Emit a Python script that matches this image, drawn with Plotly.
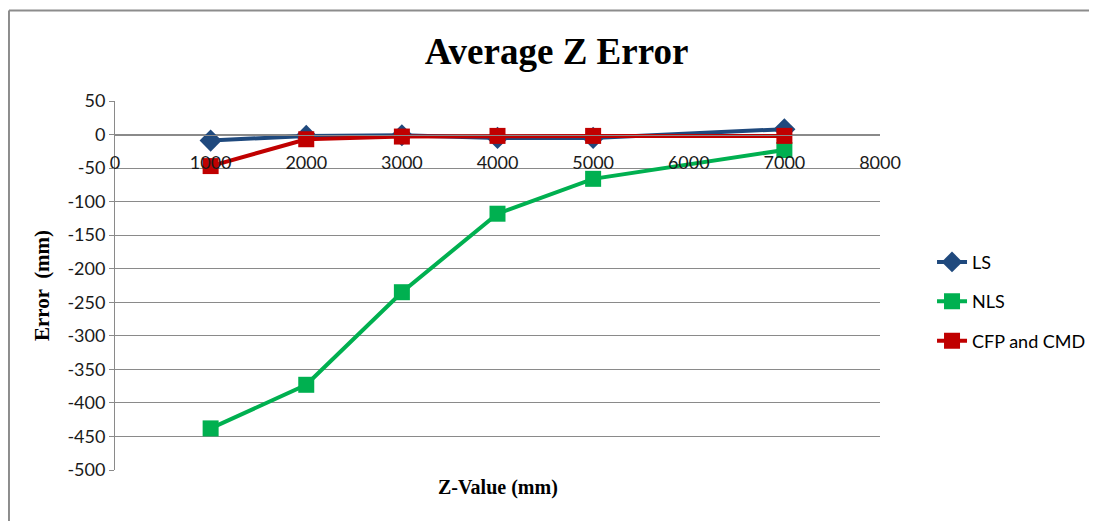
import plotly.graph_objects as go

# Z values (mm) and average Z error (mm) per method
z_values = [1000, 2000, 3000, 4000, 5000, 7000]
ls_error = [-9, -2, -1, -5, -5, 8]
nls_error = [-438, -373, -235, -118, -66, -23]
cfp_cmd_error = [-47, -7, -3, -2, -2, -2]

x_ticks = [0, 1000, 2000, 3000, 4000, 5000, 6000, 7000, 8000]
y_ticks = list(range(-500, 51, 50))
y_tick_labels = [str(v) for v in y_ticks]  # plain hyphen minus, like Excel

grid = "#8a8a8a"
tick_font = dict(family="Lato", size=18, color="#1a1a1a")

traces = [
    go.Scatter(
        x=z_values, y=ls_error, name="LS", mode="lines+markers",
        line=dict(color="#1F497D", width=4),
        marker=dict(symbol="diamond", size=17, color="#1F497D"),
        legendgroup="a",
    ),
    go.Scatter(
        x=z_values, y=nls_error, name="NLS", mode="lines+markers",
        line=dict(color="#00B050", width=4),
        marker=dict(symbol="square", size=16, color="#00B050"),
        legendgroup="b",
    ),
    go.Scatter(
        x=z_values, y=cfp_cmd_error, name="CFP and CMD", mode="lines+markers",
        line=dict(color="#C00000", width=4),
        marker=dict(symbol="square", size=16, color="#C00000"),
        legendgroup="c",
    ),
]

layout = go.Layout(
    width=1097,
    height=521,
    margin=dict(l=107, r=225, t=93, b=59, autoexpand=False),
    paper_bgcolor="white",
    plot_bgcolor="white",
    title=dict(
        text="<b>Average Z Error</b>",
        font=dict(family="Liberation Serif", size=37, color="black"),
        x=0.5, xanchor="center", xref="container",
        y=0.917, yanchor="middle", yref="container",
    ),
    legend=dict(
        x=1.068, xanchor="left", y=0.456, yanchor="middle",
        font=dict(family="Lato", size=18, color="black"),
        traceorder="grouped", tracegroupgap=13,
        bgcolor="rgba(0,0,0,0)",
    ),
    font=dict(family="Lato"),
)

fig = go.Figure(data=traces, layout=layout)

fig.update_xaxes(
    range=[0, 8000],
    tickvals=x_ticks,
    anchor="free",
    position=500 / 550,
    showgrid=False,
    zeroline=False,
    showline=True,
    linecolor=grid,
    linewidth=1,
    ticks="",
    ticklabelstandoff=12,
    tickfont=tick_font,
    automargin=False,
)
fig.update_yaxes(
    range=[-500, 50],
    tickvals=y_ticks,
    ticktext=y_tick_labels,
    showgrid=True,
    gridcolor=grid,
    gridwidth=1,
    zeroline=False,
    showline=True,
    linecolor=grid,
    ticks="outside",
    ticklen=5,
    tickcolor=grid,
    tickfont=tick_font,
    automargin=False,
    title=dict(
        text="<b>Error  (mm)</b>",
        font=dict(family="Liberation Serif", size=21, color="black"),
        standoff=12,
    ),
)

# x-axis title sits at the bottom of the plot area
fig.add_annotation(
    text="<b>Z-Value (mm)</b>",
    x=0.5, y=-0.047, xref="paper", yref="paper",
    xanchor="center", yanchor="middle", showarrow=False,
    font=dict(family="Liberation Serif", size=20, color="black"),
)

# outer chart frame (top and left edges visible)
fig.add_shape(type="line", xref="paper", yref="paper",
              x0=-0.1386, x1=1.3, y0=1.2453, y1=1.2453,
              line=dict(color="#8c8c8c", width=2))
fig.add_shape(type="line", xref="paper", yref="paper",
              x0=-0.1386, x1=-0.1386, y0=1.2453, y1=-0.17,
              line=dict(color="#8c8c8c", width=2))

fig.write_html("out.html")
